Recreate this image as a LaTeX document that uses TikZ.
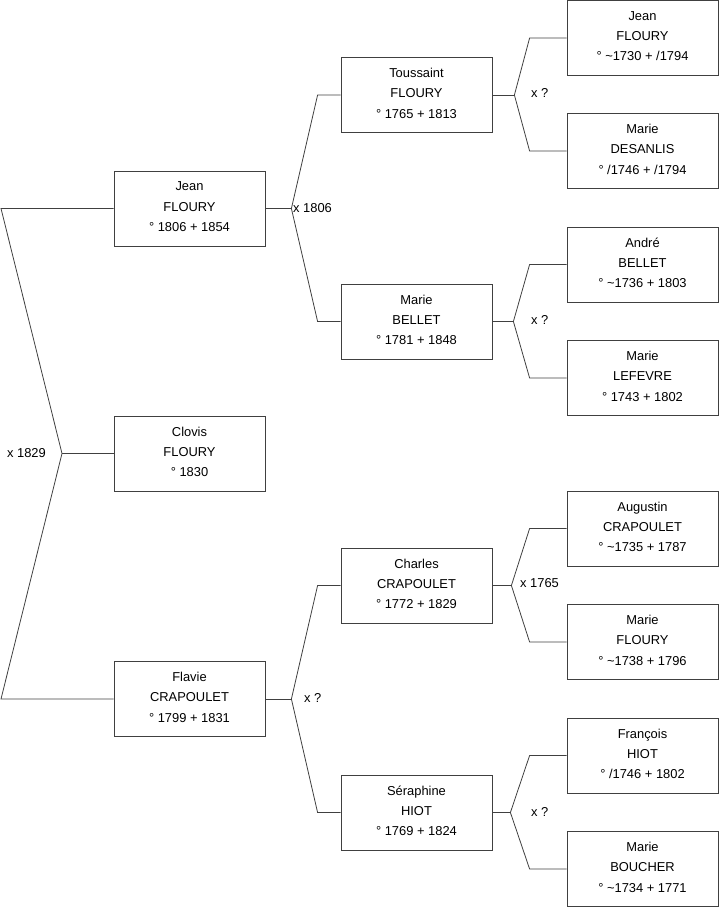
\documentclass[tikz,border=0pt]{standalone}
\usepackage{fontspec}
\setmainfont{Liberation Sans}
\usetikzlibrary{positioning}
\definecolor{arbreTrait}{RGB}{64, 64, 64}

\begin{document}
\begin{tikzpicture}[
  x=1pt,y=-1pt,
  personne/.style={
    draw=arbreTrait,
    line width=0.8pt,
    minimum width=151pt,
    minimum height=75pt,
    text depth=3.5pt,
    align=center,
    font=\fontsize{12.9pt}{20.3pt}\selectfont
  },
  mariage/.style={inner sep=0pt,font=\fontsize{12.9pt}{14pt}\selectfont},
  lien/.style={draw=arbreTrait,line width=0.8pt}
]
  \useasboundingbox (0,0) rectangle (719,908);

  % generation 1
  \node[personne] (jean) at (189.5,208.5) {Jean\\FLOURY\\° 1806 + 1854};
  \node[personne] (clovis) at (189.5,453.5) {Clovis\\FLOURY\\° 1830};
  \node[personne] (flavie) at (189.5,699) {Flavie\\CRAPOULET\\° 1799 + 1831};

  % generation 2
  \node[personne] (toussaint) at (416.5,95) {Toussaint\\FLOURY\\° 1765 + 1813};
  \node[personne] (marieB) at (416.5,321.5) {Marie\\BELLET\\° 1781 + 1848};
  \node[personne] (charles) at (416.5,585.5) {Charles\\CRAPOULET\\° 1772 + 1829};
  \node[personne] (seraphine) at (416.5,812.5) {Séraphine\\HIOT\\° 1769 + 1824};

  % generation 3
  \node[personne] (jeanA) at (642.5,38) {Jean\\FLOURY\\° \textasciitilde1730 + /1794};
  \node[personne] (marieD) at (642.5,151) {Marie\\DESANLIS\\° /1746 + /1794};
  \node[personne] (andre) at (642.5,264.5) {André\\BELLET\\° \textasciitilde1736 + 1803};
  \node[personne] (marieL) at (642.5,378) {Marie\\LEFEVRE\\° 1743 + 1802};
  \node[personne] (augustin) at (642.5,528.5) {Augustin\\CRAPOULET\\° \textasciitilde1735 + 1787};
  \node[personne] (marieF) at (642.5,642) {Marie\\FLOURY\\° \textasciitilde1738 + 1796};
  \node[personne] (francois) at (642.5,755.5) {François\\HIOT\\° /1746 + 1802};
  \node[personne] (marieH) at (642.5,869) {Marie\\BOUCHER\\° \textasciitilde1734 + 1771};

  % forks
  \coordinate (couple1) at (62,453.5);
  \coordinate (coinJ) at (1,208.5);
  \coordinate (coinF) at (1,699);
  \coordinate (couple2) at ([xshift=26pt]jean.east);
  \coordinate (couple3) at ([xshift=26pt]flavie.east);
  \coordinate (couple4) at ([xshift=22pt]toussaint.east);
  \coordinate (couple5) at ([xshift=21pt]marieB.east);
  \coordinate (couple6) at ([xshift=19pt]charles.east);
  \coordinate (couple7) at ([xshift=18pt]seraphine.east);

  \draw[lien] (jean.west) -- (coinJ) -- (couple1) -- (coinF) -- (flavie.west);
  \draw[lien] (couple1) -- (clovis.west);

  \draw[lien] (jean.east) -- (couple2);
  \draw[lien] (toussaint.west) -- ([xshift=-23pt]toussaint.west) -- (couple2)
    -- ([xshift=-23pt]marieB.west) -- (marieB.west);
  \draw[lien] (flavie.east) -- (couple3);
  \draw[lien] (charles.west) -- ([xshift=-23pt]charles.west) -- (couple3)
    -- ([xshift=-23pt]seraphine.west) -- (seraphine.west);

  \draw[lien] (toussaint.east) -- (couple4);
  \draw[lien] (jeanA.west) -- ([xshift=-37pt]jeanA.west) -- (couple4)
    -- ([xshift=-37pt]marieD.west) -- (marieD.west);
  \draw[lien] (marieB.east) -- (couple5);
  \draw[lien] (andre.west) -- ([xshift=-37pt]andre.west) -- (couple5)
    -- ([xshift=-37pt]marieL.west) -- (marieL.west);
  \draw[lien] (charles.east) -- (couple6);
  \draw[lien] (augustin.west) -- ([xshift=-37pt]augustin.west) -- (couple6)
    -- ([xshift=-37pt]marieF.west) -- (marieF.west);
  \draw[lien] (seraphine.east) -- (couple7);
  \draw[lien] (francois.west) -- ([xshift=-37pt]francois.west) -- (couple7)
    -- ([xshift=-37pt]marieH.west) -- (marieH.west);

  % marriages
  \node[mariage,anchor=east] (m1) at (46,453.5) {x 1829};
  \node[mariage,anchor=west] (m2) at (293,208.5) {x 1806};
  \node[mariage,anchor=west] (m3) at (304,698) {x ?};
  \node[mariage,anchor=west] (m4) at (531,93) {x ?};
  \node[mariage,anchor=west] (m5) at (531,320) {x ?};
  \node[mariage,anchor=west] (m6) at (520,583) {x 1765};
  \node[mariage,anchor=west] (m7) at (531,812) {x ?};
\end{tikzpicture}
\end{document}
